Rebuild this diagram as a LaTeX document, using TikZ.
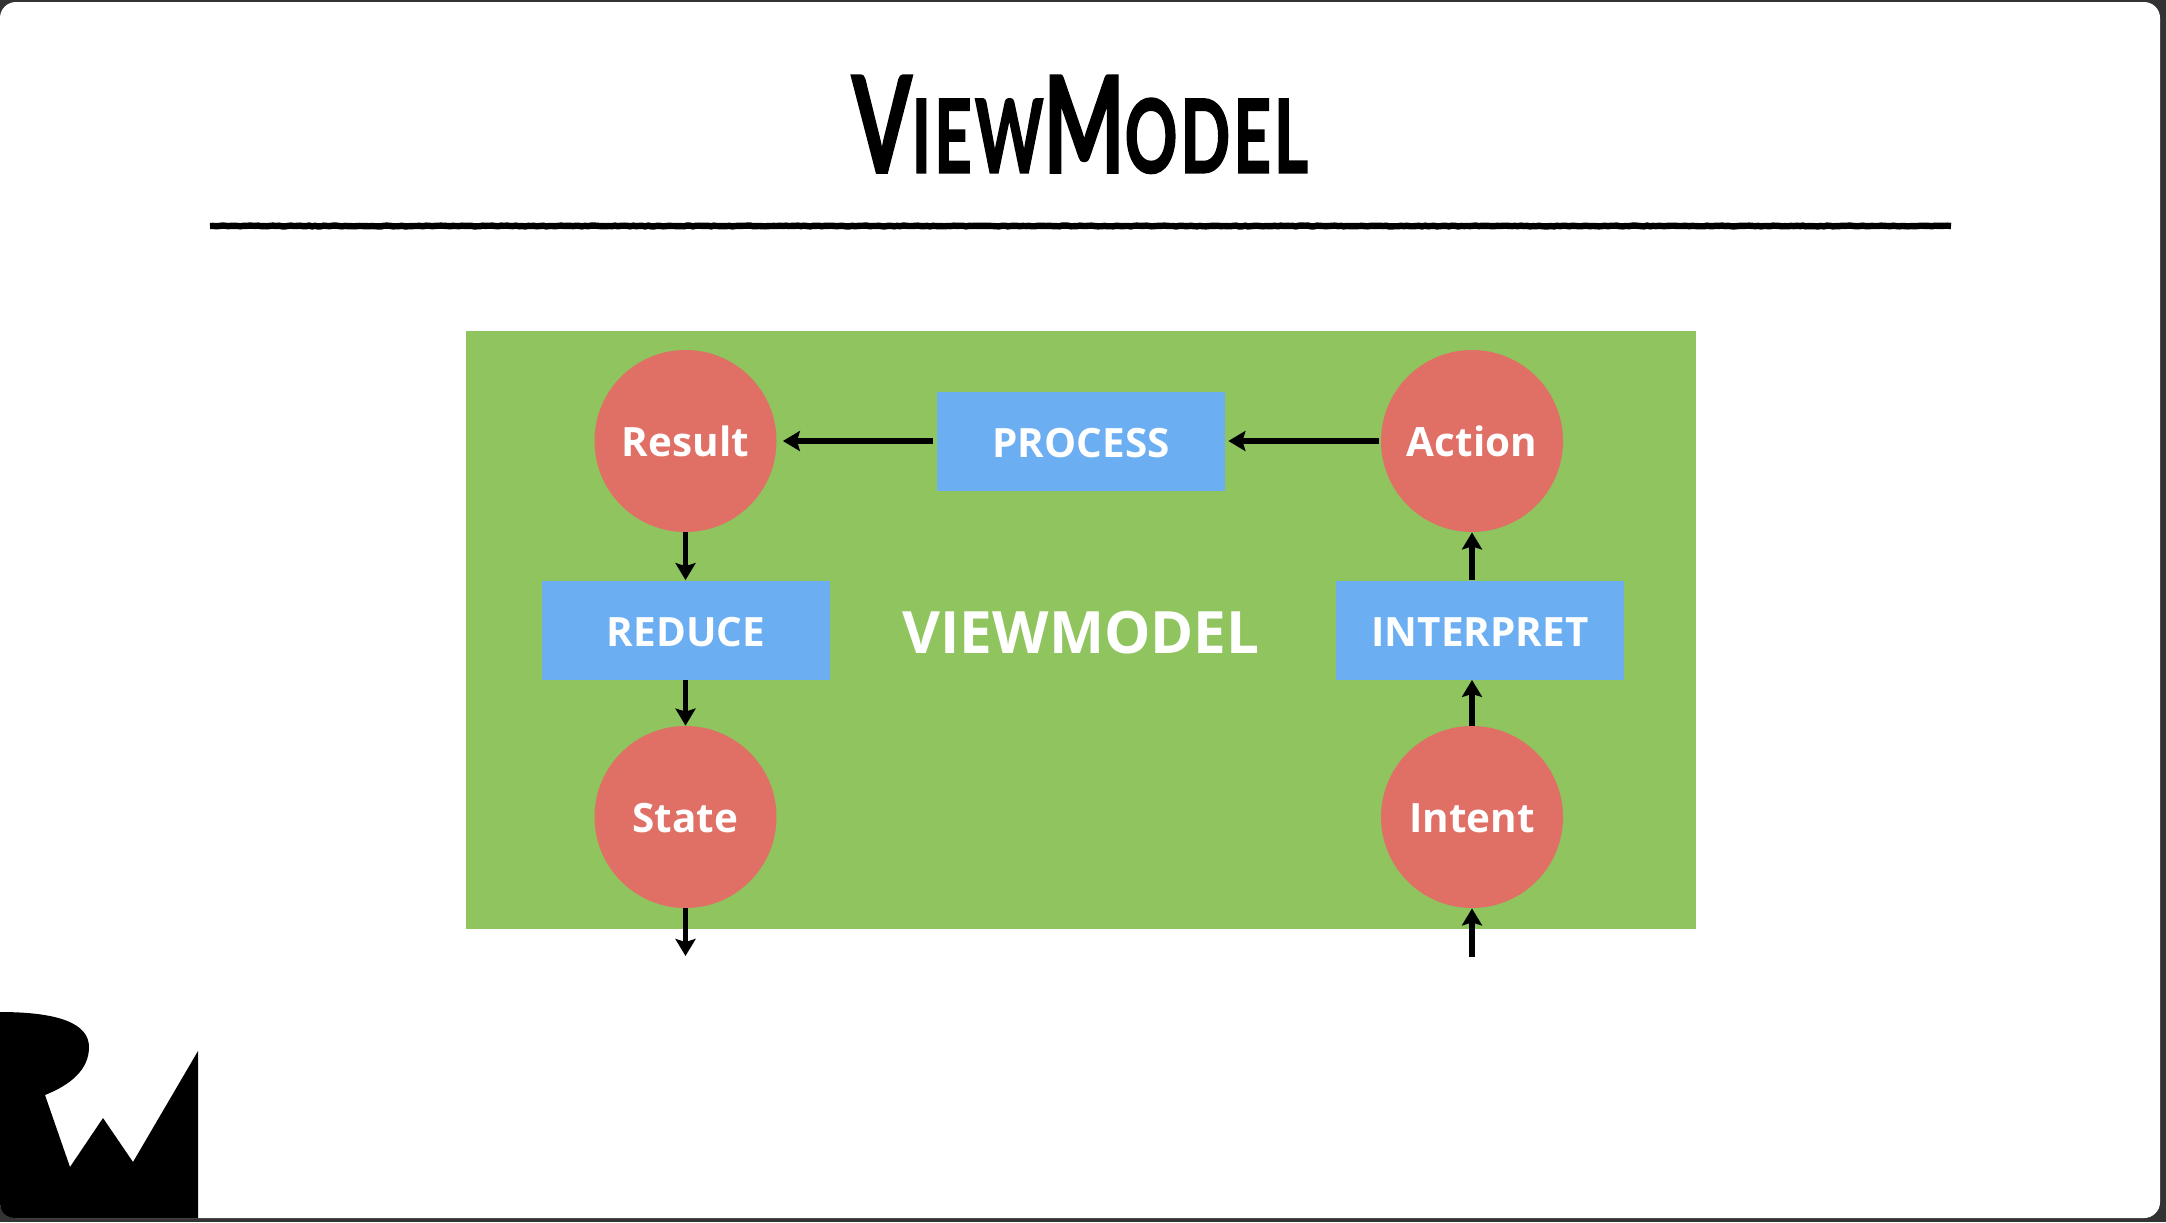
\documentclass[tikz,border=0pt]{standalone}
\usepackage{fontspec}
\usepackage{graphicx}
\usepackage{xcolor}
\usetikzlibrary{arrows.meta,decorations.pathmorphing}
\setmainfont{Open Sans}
\newfontfamily\handfont[FakeBold=2,LetterSpace=5]{Lato}
\definecolor{framegray}{HTML}{333333}
\definecolor{vmgreen}{HTML}{8FC45E}
\definecolor{vmred}{HTML}{E06F66}
\definecolor{vmblue}{HTML}{6CAEF2}
\newcommand{\titlebig}[1]{{\fontsize{66}{66}\selectfont #1}}
\newcommand{\titlesmall}[1]{{\fontsize{50}{50}\selectfont #1}}

\begin{document}
\begin{tikzpicture}[x=0.5pt,y=-0.5pt,
		circ/.style={circle,fill=vmred,text=white,minimum size=91pt,inner sep=0pt,text height=15.5pt,text depth=0pt,font=\bfseries\fontsize{20.2}{24}\selectfont},
		boxx/.style={rectangle,fill=vmblue,text=white,minimum width=144pt,minimum height=49.5pt,inner sep=0pt,text height=16pt,text depth=0pt,font=\bfseries\fontsize{20.2}{24}\selectfont},
		flow/.style={-{Stealth[length=8.5pt,width=10pt,inset=1.5pt]},line width=2.6pt,black}]
	\fill[framegray] (0,0) rectangle (2166,1222);
	\fill[white,rounded corners=8pt] (0,2) rectangle (2160,1218);
	\coordinate (ruleL) at (210,226);
	\coordinate (ruleR) at (1951,226);
	\pgfmathsetseed{7}
	\draw[line width=3.2pt,black,decorate,decoration={random steps,segment length=1.5pt,amplitude=.2pt}] (ruleL) -- (ruleR);
	\node[inner sep=0pt] (title) at (1080,124.5) {\resizebox{228pt}{48.5pt}{\handfont\bfseries\titlebig{V}\titlesmall{IEW}\titlebig{M}\titlesmall{ODEL}}};
	\fill[black] (0,1012) .. controls (60,1012) and (89,1024) .. (89,1047) .. controls (89,1070) and (70,1085) .. (45,1095) -- (70,1167) -- (103,1118) -- (133,1162) -- (198,1051) -- (198,1218) -- (16,1218) .. controls (6,1218) and (0,1212) .. (0,1202) -- cycle;
	\fill[vmgreen] (466,331) rectangle (1696,929);
	\node[circ] (Result) at (685.5,441) {Result};
	\node[circ] (State) at (685.5,817) {State};
	\node[circ] (Action) at (1472,441) {Action};
	\node[circ] (Intent) at (1472,817) {Intent};
	\node[boxx] (PROCESS) at (1081,441) {PROCESS};
	\node[boxx] (REDUCE) at (686,630) {REDUCE};
	\node[boxx] (INTERPRET) at (1480,630) {INTERPRET};
	\node[text=white,inner sep=0pt,font=\bfseries\fontsize{29.2}{35}\selectfont] (vmlabel) at (1081,633) {VIEWMODEL};
	\coordinate (stateOut) at (685.5,956);
	\coordinate (intentIn) at (1472,957);
	\draw[flow,shorten <=2pt,shorten >=3pt] (PROCESS.west) -- (Result.east);
	\draw[flow,shorten <=1pt,shorten >=1.5pt] (Action.west) -- (PROCESS.east);
	\draw[flow] (Result.south) -- (REDUCE.north -| Result.south);
	\draw[flow] (REDUCE.south -| State.north) -- (State.north);
	\draw[flow] (State.south) -- (stateOut);
	\draw[flow] (intentIn) -- (Intent.south);
	\draw[flow] (Intent.north) -- (INTERPRET.south -| Intent.north);
	\draw[flow] (INTERPRET.north -| Action.south) -- (Action.south);
\end{tikzpicture}
\end{document}
